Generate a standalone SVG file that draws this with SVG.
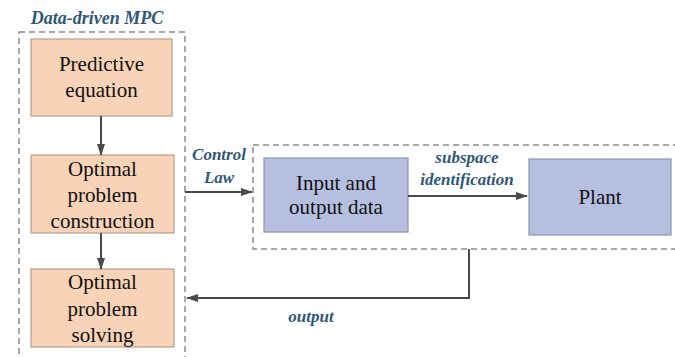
<svg xmlns="http://www.w3.org/2000/svg" width="675" height="357" viewBox="0 0 675 357">
  <defs>
    <marker id="arrow" markerWidth="12" markerHeight="8" refX="11" refY="4" orient="auto" markerUnits="userSpaceOnUse">
      <path d="M0,0 L12,4 L0,8 Z" fill="#4a4a4a"/>
    </marker>
    <style>
      .frame { fill: none; stroke: #8c8c8c; stroke-width: 1.5; stroke-dasharray: 6 4; }
      .mpc { fill: #f8d3b7; stroke: #b9a08e; stroke-width: 1.2; }
      .sys { fill: #b6bfe0; stroke: #8d93b3; stroke-width: 1.2; }
      .lbl { font-size: 21px; fill: #111; text-anchor: middle; }
      .note { font-size: 17px; font-style: italic; font-weight: bold; fill: #2f5778; text-anchor: middle; }
      .wire { fill: none; stroke: #4a4a4a; stroke-width: 2; }
    </style>
  </defs>

  <rect width="675" height="357" fill="#ffffff"/>

  <g font-family="Liberation Serif, DejaVu Serif, serif">
  <!-- dashed frames -->
  <g id="mpc-frame">
    <rect class="frame" x="19" y="32" width="166" height="340"/>
    <text class="note" x="97" y="24" style="font-size:18px">Data-driven MPC</text>
  </g>
  <g id="system-frame">
    <rect class="frame" x="253" y="145" width="440" height="104"/>
  </g>

  <!-- nodes -->
  <g id="predictive-equation">
    <rect class="mpc" x="31" y="39" width="141" height="77"/>
    <text class="lbl" x="101.5" y="71">Predictive</text>
    <text class="lbl" x="101.5" y="97">equation</text>
  </g>
  <g id="problem-construction">
    <rect class="mpc" x="31" y="155" width="143" height="78"/>
    <text class="lbl" x="102.5" y="176">Optimal</text>
    <text class="lbl" x="102.5" y="202">problem</text>
    <text class="lbl" x="102.5" y="228">construction</text>
  </g>
  <g id="problem-solving">
    <rect class="mpc" x="31" y="269" width="143" height="78"/>
    <text class="lbl" x="102.5" y="289">Optimal</text>
    <text class="lbl" x="102.5" y="316">problem</text>
    <text class="lbl" x="102.5" y="342">solving</text>
  </g>
  <g id="io-data">
    <rect class="sys" x="264" y="158" width="144" height="74"/>
    <text class="lbl" x="336" y="190">Input and</text>
    <text class="lbl" x="336" y="214">output data</text>
  </g>
  <g id="plant">
    <rect class="sys" x="529" y="159" width="142" height="76"/>
    <text class="lbl" x="600" y="204">Plant</text>
  </g>

  <!-- connectors -->
  <g id="connectors">
    <line class="wire" x1="101" y1="116" x2="101" y2="155" marker-end="url(#arrow)"/>
    <line class="wire" x1="101" y1="233" x2="101" y2="269" marker-end="url(#arrow)"/>
    <line class="wire" x1="185" y1="192" x2="252" y2="192" marker-end="url(#arrow)"/>
    <line class="wire" x1="408" y1="196" x2="527" y2="196" marker-end="url(#arrow)"/>
    <polyline class="wire" points="469,249 469,298 187,298" marker-end="url(#arrow)"/>
    <text class="note" x="219" y="160">Control</text>
    <text class="note" x="219" y="183">Law</text>
    <text class="note" x="467" y="163">subspace</text>
    <text class="note" x="467" y="185">identification</text>
    <text class="note" x="311" y="322">output</text>
  </g>
  </g>
</svg>
